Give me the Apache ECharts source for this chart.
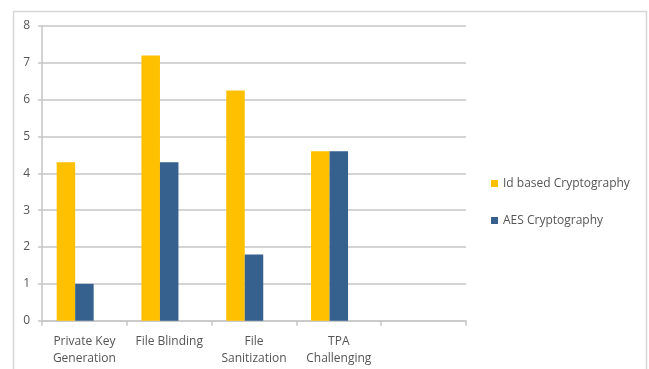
<!DOCTYPE html>
<html>
<head>
<meta charset="utf-8">
<script src="https://cdn.jsdelivr.net/npm/echarts@6/dist/echarts.min.js"></script>
<style>
  html, body { margin: 0; padding: 0; background: #fff; }
  #chart { width: 649px; height: 369px; }
</style>
</head>
<body>
<div id="chart"></div>
<script>
// Processing time per operation for the two schemes
var categories = ['Private Key\nGeneration', 'File Blinding', 'File\nSanitization', 'TPA\nChallenging', ''];
var idBased = [4.3, 7.2, 6.25, 4.6, null];
var aes = [1.0, 4.3, 1.8, 4.6, null];
var yTicks = { min: 0, max: 8, interval: 1 };

var FONT = '"Open Sans", Lato, sans-serif';
var TEXT = '#555555';
var LINE = '#c6c6c6';

var chart = echarts.init(document.getElementById('chart'), null, { renderer: 'canvas' });
chart.setOption({
  animation: false,
  backgroundColor: '#fff',
  graphic: [{
    type: 'rect',
    shape: { x: 13.5, y: 11.5, width: 633, height: 380 },
    style: { fill: 'none', stroke: '#d6d6d6', lineWidth: 1.5 },
    silent: true
  }],
  grid: { left: 42, top: 26, right: 183, bottom: 48.3 },
  legend: {
    orient: 'vertical',
    left: 491,
    top: 176,
    padding: 0,
    data: ['Id based Cryptography', 'AES Cryptography'],
    itemWidth: 7,
    itemHeight: 7,
    itemGap: 22,
    icon: 'rect',
    textStyle: { fontFamily: FONT, fontSize: 12, color: TEXT, lineHeight: 15 }
  },
  xAxis: {
    type: 'category',
    data: categories,
    axisLine: { lineStyle: { color: LINE, width: 1.5 } },
    axisTick: { show: true, length: 5, alignWithLabel: false, lineStyle: { color: LINE, width: 1.5 } },
    axisLabel: { interval: 0, margin: 12, fontFamily: FONT, fontSize: 12, color: TEXT, lineHeight: 17 },
    splitLine: { show: false }
  },
  yAxis: {
    type: 'value',
    min: yTicks.min,
    max: yTicks.max,
    interval: yTicks.interval,
    axisLine: { show: true, lineStyle: { color: LINE, width: 1.5 } },
    axisTick: { show: true, length: 4, lineStyle: { color: LINE, width: 1.5 } },
    axisLabel: { margin: 12, fontFamily: FONT, fontSize: 12, color: TEXT },
    splitLine: { lineStyle: { color: LINE, width: 1.5 } }
  },
  series: [
    { name: 'Id based Cryptography', type: 'bar', data: idBased, barWidth: 18.5, barGap: '0%',
      itemStyle: { color: '#FFC000' } },
    { name: 'AES Cryptography', type: 'bar', data: aes, barWidth: 18.5, barGap: '0%',
      itemStyle: { color: '#36618F' } },
    // empty third slot keeps each pair left of its category centre
    { name: 'spacer', type: 'bar', data: [null, null, null, null, null], barWidth: 18.5, barGap: '0%',
      silent: true }
  ]
});
</script>
</body>
</html>
